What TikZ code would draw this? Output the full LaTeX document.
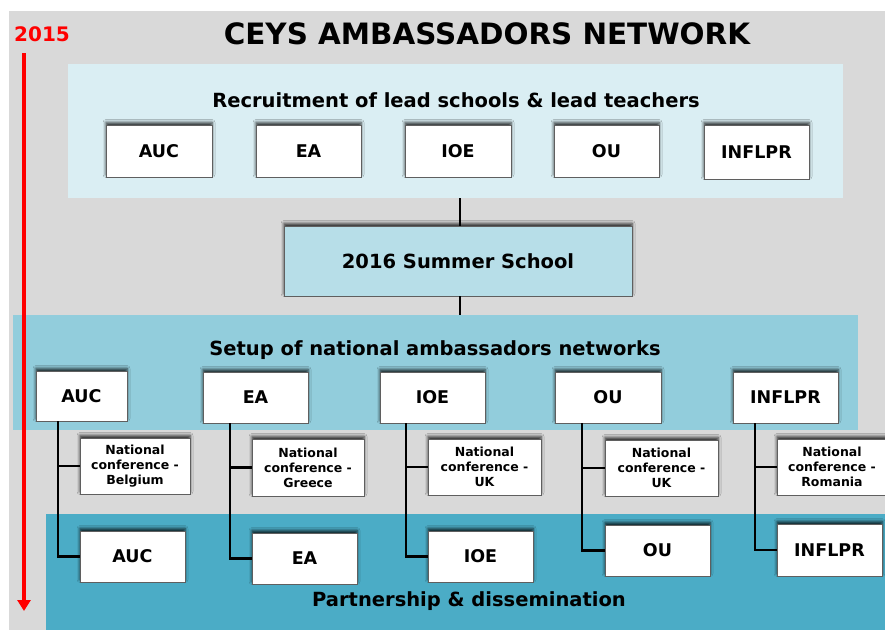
\documentclass[tikz,border=0pt]{standalone}
\usepackage{fontspec}
\setmainfont{DejaVu Sans}
\usetikzlibrary{arrows.meta,shadows.blur}
\definecolor{bggrey}{HTML}{D9D9D9}
\definecolor{recband}{HTML}{DAEEF3}
\definecolor{summer}{HTML}{B7DEE8}
\definecolor{setband}{HTML}{92CDDC}
\definecolor{partband}{HTML}{4BACC6}
\definecolor{boxline}{HTML}{5F5F5F}
\tikzset{
  band/.style={draw=none, inner sep=0pt, anchor=north west},
  bx/.style={draw=boxline, line width=0.8pt, fill=white, inner sep=0pt, align=center,
    font=\bfseries\fontsize{17.5}{20}\selectfont,
    blur shadow={shadow xshift=0pt, shadow yshift=2.5pt, shadow blur radius=3pt, shadow opacity=80}},
  conf/.style={bx, font=\bfseries\fontsize{12.5}{15}\selectfont},
  bandtitle/.style={font=\bfseries\fontsize{19.5}{23}\selectfont},
  conn/.style={line width=2.6pt, black}
}
\begin{document}
\begin{tikzpicture}[x=1pt,y=-1pt]
\useasboundingbox (0,0) rectangle (885,630);
\fill[white] (0,0) rectangle (885,630);
\fill[bggrey] (9,11) rectangle (885,630);
% bands
\node[band, fill=recband, minimum width=775, minimum height=134] (rec) at (68,64) {};
\node[band, fill=setband, minimum width=845, minimum height=115] (setup) at (13,315) {};
\node[band, fill=partband, minimum width=839, minimum height=116] (part) at (46,514) {};
% titles
\node[font=\bfseries\fontsize{29.4}{34}\selectfont] (title) at (487,34) {CEYS AMBASSADORS NETWORK};
\node[text=red, font=\bfseries\fontsize{20}{23}\selectfont] (year) at (42,34) {2015};
\node[bandtitle] (rect) at (456,100) {Recruitment of lead schools \& lead teachers};
\node[bandtitle] (sett) at (435,350) {Setup of national ambassadors networks};
\node[bandtitle] (partt) at (469,601) {Partnership \& dissemination};
% timeline
\coordinate (tl1) at (24,53);
\coordinate (tl2) at (24,611);
\draw[red, line width=4pt, -{Triangle[width=13pt,length=11pt]}] (tl1) -- (tl2);
% top boxes
\node[bx, minimum width=106, minimum height=52] (t1) at (159,151) {AUC};
\node[bx, minimum width=105, minimum height=52] (t2) at (308.5,151) {EA};
\node[bx, minimum width=106, minimum height=52] (t3) at (458,151) {IOE};
\node[bx, minimum width=105, minimum height=52] (t4) at (606.5,151) {OU};
\node[bx, minimum width=105, minimum height=54] (t5) at (756.5,152) {INFLPR};
% summer school
\node[bx, fill=summer, minimum width=348, minimum height=70, font=\bfseries\fontsize{19.5}{23}\selectfont] (ss) at (458,261) {2016 Summer School};
\coordinate (vx) at (460,0);
\draw[conn] (rec.south -| vx) -- (ss.north -| vx);
\draw[conn] (ss.south -| vx) -- (setup.north -| vx);
% setup boxes
\node[bx, minimum width=91, minimum height=50] (s1) at (81.5,396) {AUC};
\node[bx, minimum width=105, minimum height=51] (s2) at (255.5,397.5) {EA};
\node[bx, minimum width=105, minimum height=51] (s3) at (432.5,397.5) {IOE};
\node[bx, minimum width=106, minimum height=51] (s4) at (608,397.5) {OU};
\node[bx, minimum width=105, minimum height=51] (s5) at (785.5,397.5) {INFLPR};
% conference boxes
\node[conf, minimum width=110, minimum height=56] (c1) at (135,466) {National\\conference -\\Belgium};
\node[conf, minimum width=112, minimum height=57] (c2) at (308,467.5) {National\\conference -\\Greece};
\node[conf, minimum width=113, minimum height=56] (c3) at (484.5,467) {National\\conference -\\UK};
\node[conf, minimum width=113, minimum height=56] (c4) at (661.5,468) {National\\conference -\\UK};
\node[conf, minimum width=110, minimum height=56] (c5) at (832,467) {National\\conference -\\Romania};
% bottom boxes
\node[bx, minimum width=105, minimum height=51] (b1) at (132.5,556.5) {AUC};
\node[bx, minimum width=105, minimum height=51] (b2) at (304.5,558.5) {EA};
\node[bx, minimum width=105, minimum height=51] (b3) at (480.5,556.5) {IOE};
\node[bx, minimum width=105, minimum height=51] (b4) at (657.5,550.5) {OU};
\node[bx, minimum width=105, minimum height=52] (b5) at (829.5,550) {INFLPR};
% connectors
\coordinate (v1) at (58,0);
\coordinate (v2) at (230,0);
\coordinate (v3) at (406,0);
\coordinate (v4) at (582,0);
\coordinate (v5) at (755,0);
\foreach \i in {1,...,5}{
  \draw[conn] (s\i.south -| v\i) |- (b\i.west);
  \draw[conn] (c\i.west) -- (c\i.west -| v\i);
}
\end{tikzpicture}
\end{document}
